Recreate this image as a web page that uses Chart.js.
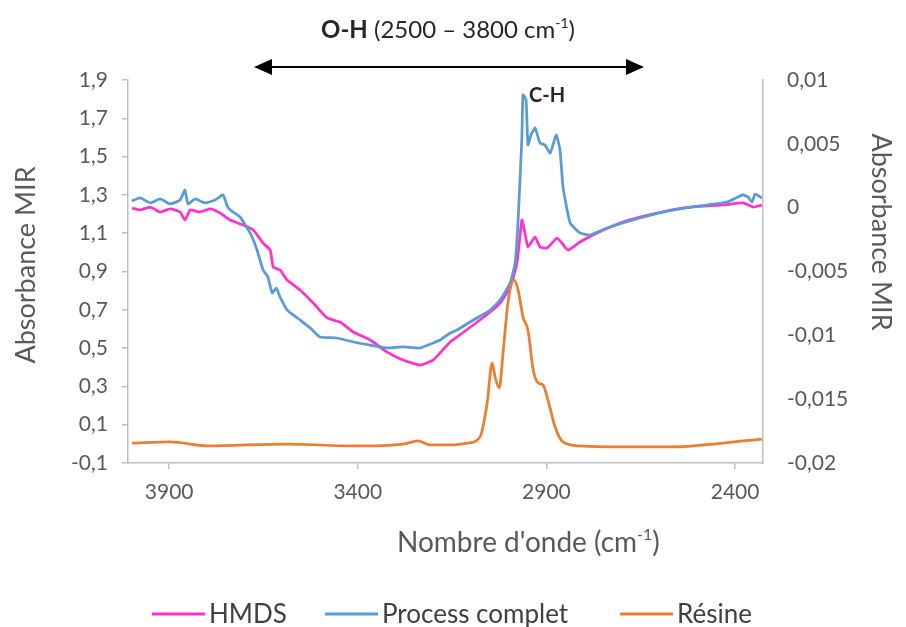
<!DOCTYPE html>
<html>
<head>
<meta charset="utf-8">
<script src="https://cdn.jsdelivr.net/npm/chart.js@4.4.1/dist/chart.umd.min.js"></script>
<style>
  html, body { margin: 0; padding: 0; background: #fff; }
  canvas { display: block; }
</style>
</head>
<body>
<canvas id="spectra" width="906" height="627"></canvas>
<script>
// IR spectra — HMDS / Process complet on the right axis, Résine on the left axis

const xTicks = [3900, 3400, 2900, 2400];

const hmdsWn = [3998, 3977, 3950, 3924, 3897, 3871, 3858, 3844, 3818, 3791, 3765, 3738, 3704, 3677,
  3651, 3632, 3624, 3606, 3587, 3553, 3518, 3481, 3447, 3412, 3367, 3322, 3280, 3235, 3200, 3182,
  3155, 3137, 3094, 3049, 3023, 2996, 2978, 2965, 2957, 2949, 2930, 2917, 2898, 2872, 2859, 2843,
  2811, 2766, 2697, 2607, 2519, 2432, 2379, 2352, 2329];
const hmdsAbs = [-0.00003, -0.00018, 0.00005, -0.00034, -0.0001, -0.00034, -0.00097, -0.00018, -0.00034,
  -0.0001, -0.00042, -0.00097, -0.00136, -0.00175, -0.00277, -0.00332, -0.00465, -0.00488, -0.00567,
  -0.00645, -0.00747, -0.00864, -0.00896, -0.00974, -0.01037, -0.01131, -0.01193, -0.01233, -0.01193,
  -0.01138, -0.01052, -0.01013, -0.00919, -0.00817, -0.00747, -0.00621, -0.00433, -0.00097, -0.00198,
  -0.00308, -0.0023, -0.00308, -0.00316, -0.00238, -0.00277, -0.00332, -0.00269, -0.00198, -0.00112,
  -0.00042, 0.00005, 0.00021, 0.00037, 0.00005, 0.00021];

const processWn = [3999, 3977, 3950, 3924, 3897, 3871, 3858, 3850, 3831, 3805, 3778, 3757, 3746, 3738,
  3712, 3685, 3667, 3651, 3638, 3627, 3616, 3606, 3587, 3553, 3526, 3500, 3455, 3412, 3367, 3322,
  3280, 3235, 3200, 3182, 3155, 3137, 3094, 3049, 3023, 2996, 2983, 2975, 2965, 2962, 2954, 2949,
  2941, 2930, 2917, 2904, 2890, 2874, 2864, 2856, 2837, 2811, 2784, 2739, 2652, 2564, 2474, 2421,
  2379, 2366, 2355, 2347, 2329];
const processAbs = [0.00052, 0.00076, 0.00037, 0.00068, 0.00029, 0.0006, 0.00138, 0.00029, 0.00068,
  0.00037, 0.0006, 0.001, 0.00013, -0.00018, -0.00073, -0.002, -0.00332, -0.00488, -0.00543, -0.00668,
  -0.00629, -0.007, -0.00802, -0.0088, -0.00943, -0.01013, -0.01021, -0.01052, -0.01076, -0.01099,
  -0.01091, -0.01099, -0.0106, -0.01037, -0.00982, -0.00958, -0.0088, -0.00802, -0.00723, -0.0059,
  -0.00433, -0.00097, 0.00554, 0.00883, 0.00843, 0.00491, 0.00569, 0.00624, 0.00507, 0.00491, 0.00428,
  0.00569, 0.00452, 0.00162, -0.0012, -0.00198, -0.00214, -0.00159, -0.00081, -0.00018, 0.00021,
  0.00044, 0.001, 0.00084, 0.00044, 0.00107, 0.00076];

const resineWn = [3998, 3897, 3799, 3587, 3412, 3280, 3240, 3208, 3155, 3110, 3076, 3057, 3044, 3036,
  3025, 3015, 3002, 2986, 2975, 2962, 2949, 2935, 2922, 2909, 2896, 2877, 2856, 2811, 2697, 2564,
  2432, 2329];
const resineAbs = [0.004, 0.010, -0.011, -0.001, -0.011, -0.001, 0.015, -0.006, -0.006, 0.004, 0.036,
  0.213, 0.422, 0.349, 0.292, 0.474, 0.736, 0.856, 0.803, 0.662, 0.595, 0.386, 0.318, 0.307, 0.229,
  0.088, 0.010, -0.011, -0.016, -0.016, 0.004, 0.025];

const leftTicks = [-0.1, 0.1, 0.3, 0.5, 0.7, 0.9, 1.1, 1.3, 1.5, 1.7, 1.9];
const rightTicks = [-0.02, -0.015, -0.01, -0.005, 0, 0.005, 0.01];

const FONT = 'Lato, "Open Sans", sans-serif';
const AXIS_TEXT = '#595959';
const DARK_TEXT = '#404040';

const pts = (xs, ys) => xs.map((x, i) => ({ x, y: ys[i] }));
const comma = v => String(Math.round(v * 1000000) / 1000000).replace('.', ',');

// text with a raised "-1" exponent
function drawRich(ctx, parts, x, y) {
  parts.forEach(p => {
    ctx.font = p.font;
    ctx.fillText(p.text, x, y + (p.dy || 0));
    x += ctx.measureText(p.text).width;
  });
}

const annotations = {
  id: 'annotations',
  afterDraw(chart) {
    const ctx = chart.ctx;
    ctx.save();

    // top header
    ctx.fillStyle = '#262626';
    ctx.textBaseline = 'alphabetic';
    ctx.textAlign = 'left';
    drawRich(ctx, [
      { text: 'O-H', font: `bold 24px ${FONT}` },
      { text: ' (2500 \u2013 3800 cm', font: `24px ${FONT}` },
      { text: '-1', font: `14px ${FONT}`, dy: -10 },
      { text: ')', font: `24px ${FONT}` },
    ], 321, 38);

    // double arrow
    ctx.strokeStyle = '#000';
    ctx.fillStyle = '#000';
    ctx.lineWidth = 2;
    ctx.beginPath();
    ctx.moveTo(266, 67);
    ctx.lineTo(632, 67);
    ctx.stroke();
    ctx.beginPath();
    ctx.moveTo(254, 67); ctx.lineTo(272, 59); ctx.lineTo(272, 75); ctx.closePath();
    ctx.fill();
    ctx.beginPath();
    ctx.moveTo(644, 67); ctx.lineTo(626, 59); ctx.lineTo(626, 75); ctx.closePath();
    ctx.fill();

    // C-H label
    ctx.fillStyle = '#262626';
    ctx.font = `bold 20px ${FONT}`;
    ctx.fillText('C-H', 529, 102);

    // x axis title
    ctx.fillStyle = AXIS_TEXT;
    drawRich(ctx, [
      { text: "Nombre d'onde (cm", font: `28px ${FONT}` },
      { text: '-1', font: `16px ${FONT}`, dy: -12 },
      { text: ')', font: `28px ${FONT}` },
    ], 397, 552);

    // y axis titles
    ctx.font = `27px ${FONT}`;
    ctx.textAlign = 'center';
    ctx.textBaseline = 'middle';
    ctx.save();
    ctx.translate(26, 265);
    ctx.rotate(-Math.PI / 2);
    ctx.fillText('Absorbance MIR', 0, 0);
    ctx.restore();
    ctx.save();
    ctx.translate(881, 232);
    ctx.rotate(Math.PI / 2);
    ctx.fillText('Absorbance MIR', 0, 0);
    ctx.restore();

    // legend
    ctx.textAlign = 'left';
    ctx.font = `26px ${FONT}`;
    const items = [
      { label: 'HMDS', color: '#FF33CC', x: 152 },
      { label: 'Process complet', color: '#5B9BD5', x: 325 },
      { label: 'Résine', color: '#ED7D31', x: 620 },
    ];
    items.forEach(it => {
      ctx.strokeStyle = it.color;
      ctx.lineWidth = 3;
      ctx.beginPath();
      ctx.moveTo(it.x, 614);
      ctx.lineTo(it.x + 53, 614);
      ctx.stroke();
      ctx.fillStyle = DARK_TEXT;
      ctx.fillText(it.label, it.x + 57, 615);
    });

    ctx.restore();
  }
};

new Chart(document.getElementById('spectra'), {
  type: 'line',
  data: {
    datasets: [
      {
        label: 'HMDS',
        data: pts(hmdsWn, hmdsAbs),
        yAxisID: 'yRight',
        borderColor: '#FF33CC',
        borderWidth: 2.75,
        pointRadius: 0,
        tension: 0.15,
        order: 2,
      },
      {
        label: 'Process complet',
        data: pts(processWn, processAbs),
        yAxisID: 'yRight',
        borderColor: '#5B9BD5',
        borderWidth: 2.75,
        pointRadius: 0,
        tension: 0.15,
        order: 1,
      },
      {
        label: 'Résine',
        data: pts(resineWn, resineAbs),
        yAxisID: 'y',
        borderColor: '#ED7D31',
        borderWidth: 2.75,
        pointRadius: 0,
        cubicInterpolationMode: 'monotone',
        order: 0,
      },
    ]
  },
  options: {
    responsive: false,
    animation: false,
    devicePixelRatio: 1,
    layout: { padding: { top: 80, left: 0, right: 0, bottom: 0 } },
    plugins: {
      legend: { display: false },
      tooltip: { enabled: false },
    },
    scales: {
      x: {
        type: 'linear',
        reverse: true,
        min: 2326,
        max: 4009,
        afterBuildTicks: s => { s.ticks = xTicks.map(v => ({ value: v })); },
        afterFit: s => { s.height = 164; },
        ticks: {
          color: AXIS_TEXT,
          font: { family: FONT, size: 21 },
          padding: 11,
          maxRotation: 0,
          callback: v => String(v),
        },
        grid: { drawOnChartArea: false, tickLength: 6, color: '#BFBFBF', lineWidth: 1.5 },
        border: { color: '#BFBFBF', width: 1.5 },
      },
      y: {
        position: 'left',
        min: -0.1,
        max: 1.9,
        afterBuildTicks: s => { s.ticks = leftTicks.map(v => ({ value: v })); },
        afterFit: s => { s.width = 128; },
        ticks: {
          color: AXIS_TEXT,
          font: { family: FONT, size: 21 },
          padding: 14,
          callback: v => comma(v),
        },
        grid: { drawOnChartArea: false, tickLength: 6, color: '#BFBFBF', lineWidth: 1.5 },
        border: { color: '#BFBFBF', width: 1.5 },
      },
      yRight: {
        position: 'right',
        min: -0.02,
        max: 0.01,
        afterBuildTicks: s => { s.ticks = rightTicks.map(v => ({ value: v })); },
        afterFit: s => { s.width = 143; },
        ticks: {
          color: AXIS_TEXT,
          font: { family: FONT, size: 21 },
          padding: 24,
          callback: v => comma(v),
        },
        grid: { display: false, drawTicks: false },
        border: { display: true, color: '#BFBFBF', width: 1.5 },
      },
    }
  },
  plugins: [annotations]
});
</script>
</body>
</html>
